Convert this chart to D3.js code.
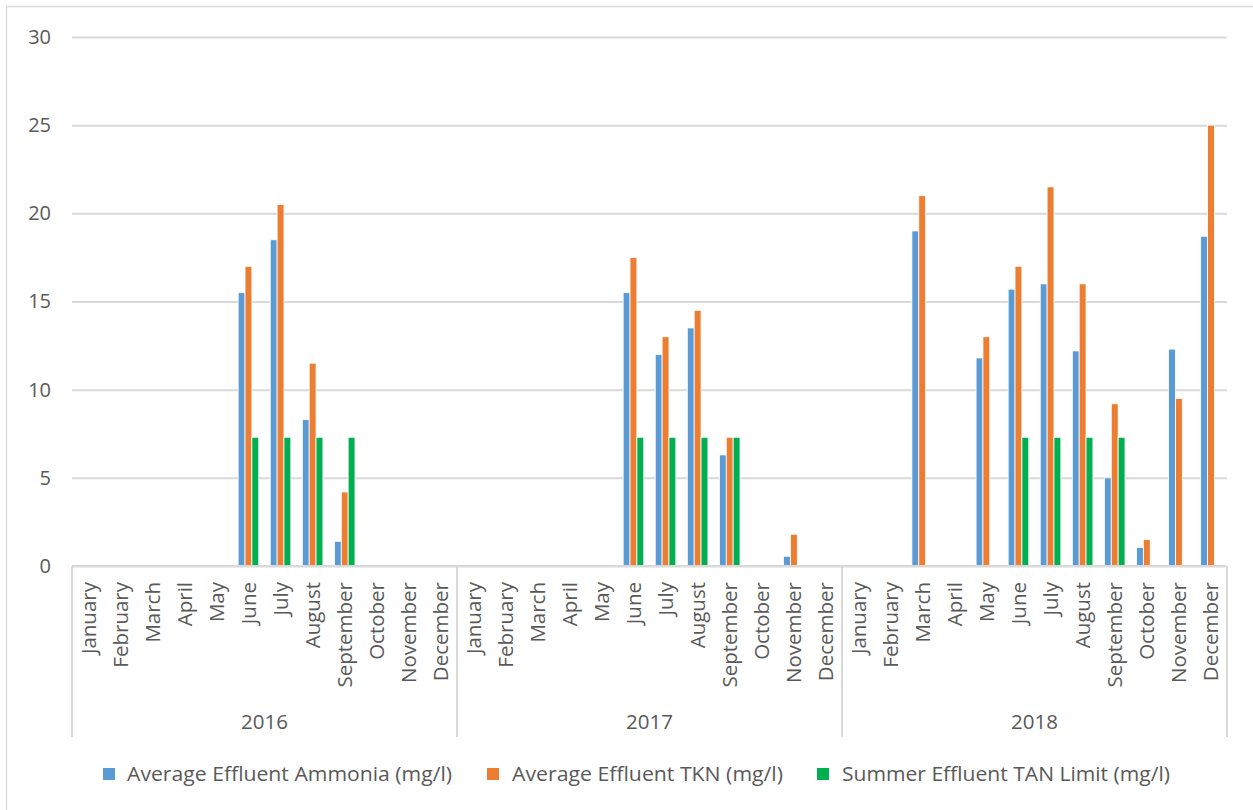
<!DOCTYPE html>
<html>
<head>
<meta charset="utf-8">
<script src="https://cdn.jsdelivr.net/npm/d3@7"></script>
<style>
  html, body { margin: 0; padding: 0; background: #fff; }
  svg { display: block; }
  text { font-family: "Open Sans", "Noto Sans", sans-serif; fill: #595959; }
</style>
</head>
<body>
<svg id="chart" width="1253" height="810"></svg>
<script>
// Monthly effluent nitrogen, 2016-2018
const years = ["2016", "2017", "2018"];
const months = ["January", "February", "March", "April", "May", "June",
  "July", "August", "September", "October", "November", "December"];

// One value per month, 36 in all (null = no sample)
const ammonia = [
  null, null, null, null, null, 15.5, 18.5, 8.3, 1.4, null, null, null,
  null, null, null, null, null, 15.5, 12.0, 13.5, 6.3, null, 0.55, null,
  null, null, 19.0, null, 11.8, 15.7, 16.0, 12.2, 5.0, 1.05, 12.3, 18.7
];
const tkn = [
  null, null, null, null, null, 17.0, 20.5, 11.5, 4.2, null, null, null,
  null, null, null, null, null, 17.5, 13.0, 14.5, 7.3, null, 1.8, null,
  null, null, 21.0, null, 13.0, 17.0, 21.5, 16.0, 9.2, 1.5, 9.5, 25.0
];
const tanLimit = [
  null, null, null, null, null, 7.3, 7.3, 7.3, 7.3, null, null, null,
  null, null, null, null, null, 7.3, 7.3, 7.3, 7.3, null, null, null,
  null, null, null, null, null, 7.3, 7.3, 7.3, 7.3, null, null, null
];
const seriesNames = ["Average Effluent Ammonia (mg/l)", "Average Effluent TKN (mg/l)", "Summer Effluent TAN Limit (mg/l)"];
const seriesColors = ["#5b9bd5", "#ed7d31", "#00b050"];
const yTicks = [0, 5, 10, 15, 20, 25, 30];

const seriesValues = [ammonia, tkn, tanLimit];
const categories = [];
years.forEach(y => months.forEach(m => categories.push(y + "-" + m)));

const svg = d3.select("#chart");
const plotLeft = 72, plotRight = 1227, plotTop = 37, plotBottom = 566;
const grey = "#d9d9d9";

// chart frame
svg.append("path")
  .attr("d", `M6.5,810 V6.5 H1253`)
  .attr("fill", "none").attr("stroke", grey).attr("stroke-width", 1.3);

const x = d3.scaleBand().domain(categories).range([plotLeft, plotRight])
  .paddingInner(0.358).paddingOuter(0.179);
const xs = d3.scaleBand().domain(d3.range(3)).range([0, x.bandwidth()]);
const y = d3.scaleLinear().domain([0, 30]).range([plotBottom, plotTop]);

// gridlines + value labels
const yAxis = d3.axisLeft(y).tickValues(yTicks).tickSize(-(plotRight - plotLeft)).tickPadding(21);
const gy = svg.append("g").attr("transform", `translate(${plotLeft},0)`).call(yAxis);
gy.select(".domain").remove();
gy.selectAll(".tick line").attr("stroke", grey).attr("stroke-width", 2);
gy.selectAll(".tick text").attr("font-size", 20).attr("fill", "#595959")
  .style("font-family", '"Open Sans", sans-serif');

// bars
seriesValues.forEach((vals, si) => {
  svg.append("g").selectAll("rect")
    .data(categories.map((c, i) => ({ c, v: vals[i] })).filter(d => d.v != null))
    .join("rect")
    .attr("x", d => x(d.c) + xs(si))
    .attr("width", xs.bandwidth())
    .attr("y", d => y(d.v))
    .attr("height", d => y(0) - y(d.v))
    .attr("fill", seriesColors[si])
    .attr("stroke", "#fff").attr("stroke-width", 0.8);
});

// category axis: month labels, then year groups
const axisG = svg.append("g");
axisG.append("line").attr("x1", plotLeft).attr("x2", plotRight).attr("y1", plotBottom).attr("y2", plotBottom)
  .attr("stroke", grey).attr("stroke-width", 2);
const step = x.step();
const groupBounds = years.map((yr, i) => [plotLeft + i * 12 * step, plotLeft + (i + 1) * 12 * step]);
[plotLeft, ...groupBounds.map(b => b[1])].forEach(px => {
  axisG.append("line").attr("x1", px).attr("x2", px).attr("y1", plotBottom).attr("y2", 737)
    .attr("stroke", grey).attr("stroke-width", 2);
});
axisG.selectAll("text.month").data(categories).join("text")
  .attr("class", "month")
  .attr("transform", d => `translate(${x(d) + x.bandwidth() / 2 + 7.5},582) rotate(-90)`)
  .attr("text-anchor", "end")
  .attr("font-size", 20.5)
  .text(d => d.split("-")[1]);
axisG.selectAll("text.year").data(years).join("text")
  .attr("class", "year")
  .attr("x", (d, i) => (groupBounds[i][0] + groupBounds[i][1]) / 2)
  .attr("y", 729)
  .attr("text-anchor", "middle")
  .attr("font-size", 20.5)
  .text(d => d);

// legend
const legendItems = [
  { sx: 103, tx: 127, w: 325 },
  { sx: 487, tx: 512, w: 271 },
  { sx: 817, tx: 842, w: 328 }
];
const lg = svg.append("g");
legendItems.forEach((it, i) => {
  lg.append("rect").attr("x", it.sx).attr("y", 768).attr("width", 12).attr("height", 12)
    .attr("fill", seriesColors[i]);
  lg.append("text").attr("x", it.tx).attr("y", 781)
    .attr("font-size", 20)
    .attr("textLength", it.w).attr("lengthAdjust", "spacingAndGlyphs")
    .text(seriesNames[i]);
});
</script>
</body>
</html>
